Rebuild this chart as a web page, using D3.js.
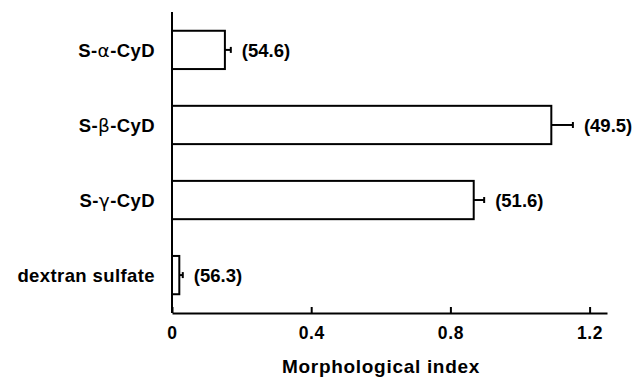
<!DOCTYPE html>
<html>
<head>
<meta charset="utf-8">
<script src="https://cdn.jsdelivr.net/npm/d3@7"></script>
<style>
  body { margin: 0; background: #fff; }
  text { font-family: "Liberation Sans", Arial, sans-serif; font-weight: bold; fill: #000; }
</style>
</head>
<body>
<script>
// categories, top to bottom
var categories = ["S-α-CyD", "S-β-CyD", "S-γ-CyD", "dextran sulfate"]
var values = [0.152, 1.09, 0.867, 0.021]
var errors = [0.017, 0.062, 0.030, 0.010]
var notes = ["(54.6)", "(49.5)", "(51.6)", "(56.3)"]
var xTicks = [0, 0.4, 0.8, 1.2]

var width = 634, height = 377
var mLeft = 172, mRight = 607, mTop = 12, mBottom = 313

var svg = d3.select("body").append("svg")
  .attr("width", width)
  .attr("height", height)

var x = d3.scaleLinear().domain([0, 1.25]).range([mLeft, mRight])
var y = d3.scaleBand().domain(categories).range([mTop, mBottom]).paddingInner(0.49).paddingOuter(0.25)

// bars
svg.selectAll("rect.bar")
  .data(categories)
  .enter().append("rect")
  .attr("class", "bar")
  .attr("x", x(0))
  .attr("y", function(d) { return y(d) })
  .attr("width", function(d, i) { return x(values[i]) - x(0) })
  .attr("height", y.bandwidth())
  .attr("fill", "#fff")
  .attr("stroke", "#000")
  .attr("stroke-width", 2)

// error bars (one-sided)
var err = svg.selectAll("g.err")
  .data(categories)
  .enter().append("g")
  .attr("class", "err")
err.append("line")
  .attr("x1", function(d, i) { return x(values[i]) })
  .attr("x2", function(d, i) { return x(values[i] + errors[i]) })
  .attr("y1", function(d) { return y(d) + y.bandwidth() / 2 })
  .attr("y2", function(d) { return y(d) + y.bandwidth() / 2 })
  .attr("stroke", "#000")
  .attr("stroke-width", 2)
err.append("line")
  .attr("x1", function(d, i) { return x(values[i] + errors[i]) })
  .attr("x2", function(d, i) { return x(values[i] + errors[i]) })
  .attr("y1", function(d) { return y(d) + y.bandwidth() / 2 - 3 })
  .attr("y2", function(d) { return y(d) + y.bandwidth() / 2 + 3 })
  .attr("stroke", "#000")
  .attr("stroke-width", 2)

// value notes
svg.selectAll("text.note")
  .data(categories)
  .enter().append("text")
  .attr("class", "note")
  .attr("x", function(d, i) { return x(values[i] + errors[i]) + 11 })
  .attr("y", function(d) { return y(d) + y.bandwidth() / 2 })
  .attr("dy", "0.36em")
  .attr("font-size", 18.5)
  .text(function(d, i) { return notes[i] })

// category labels, greek letter in a regular weight
svg.selectAll("text.cat")
  .data(categories)
  .enter().append("text")
  .attr("class", "cat")
  .attr("x", 155)
  .attr("y", function(d) { return y(d) + y.bandwidth() / 2 })
  .attr("dy", "0.36em")
  .attr("text-anchor", "end")
  .attr("font-size", 18.5)
  .attr("letter-spacing", 0.4)
  .each(function(d) {
    var t = d3.select(this)
    var m = d.match(/^(S-)([αβγ])(-CyD)$/)
    if (m) {
      t.append("tspan").text(m[1])
      t.append("tspan").attr("font-weight", "normal").attr("font-family", "DejaVu Sans").text(m[2])
      t.append("tspan").text(m[3])
    } else {
      t.text(d)
    }
  })

// y axis line
svg.append("line")
  .attr("x1", mLeft).attr("x2", mLeft)
  .attr("y1", mTop).attr("y2", mBottom)
  .attr("stroke", "#000").attr("stroke-width", 2)

// x axis, ticks point inward
var xAxis = d3.axisBottom(x).tickValues(xTicks).tickSizeInner(-6).tickSizeOuter(0)
  .tickFormat(function(d) { return d === 0 ? "0" : d3.format(".1f")(d) })
var gx = svg.append("g").attr("transform", "translate(0," + mBottom + ")").call(xAxis)
gx.select(".domain").attr("stroke-width", 2)
gx.selectAll(".tick line").attr("stroke-width", 2)
gx.selectAll(".tick text")
  .attr("y", 14)
  .attr("dy", "0.71em")
  .attr("font-size", 17.5)
  .attr("letter-spacing", 0.6)
  .attr("font-family", "Liberation Sans, Arial, sans-serif")

svg.append("text")
  .attr("x", 381)
  .attr("y", 373)
  .attr("text-anchor", "middle")
  .attr("font-size", 19)
  .attr("letter-spacing", 0.7)
  .text("Morphological index")
</script>
</body>
</html>
